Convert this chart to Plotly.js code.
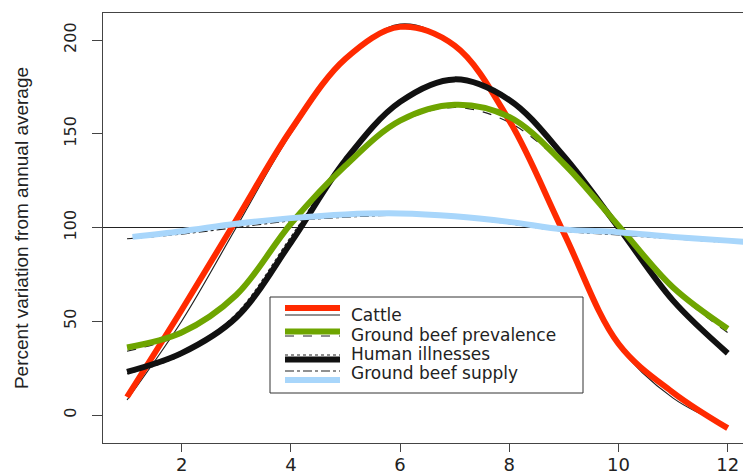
<!DOCTYPE html>
<html>
<head>
<meta charset="utf-8">
<script src="https://cdn.plot.ly/plotly-3.0.1.min.js"></script>
<style>
  html, body { margin: 0; padding: 0; background: #fff; overflow: hidden; }
  #chart { width: 743px; height: 474px; }
</style>
</head>
<body>
<div id="chart"></div>
<script>
// ---- data ----
const months = [1, 2, 3, 4, 5, 6, 7, 8, 9, 10, 11, 12];

const cattle     = [9.6, 56, 104, 152, 190, 207, 197, 157, 97, 38, 12, -7];
const cattleFit  = [8, 50, 100, 150, 189, 208.5, 197, 156, 96, 37, 9, -6];

const prevalence    = [36, 44, 64, 102, 133, 157, 165.5, 159, 134, 101, 68, 46];
const prevalenceFit = [34, 43, 63, 101, 132, 156, 164, 156, 133, 100, 67, 44];

const illnesses    = [23, 33, 52, 92, 136, 167, 179, 168, 138, 100, 61, 33];
const illnessesFit = [22, 32, 54, 95, 137, 167, 178.5, 167.5, 137, 99.5, 60, 32];

const supplyMonths = [1.1, 2, 3, 4, 5, 6, 7, 8, 9, 10, 11, 12, 12.5];
const supply       = [95, 98, 102, 105, 107, 107.5, 106, 103, 99, 97.5, 95, 93, 92];
const supplyFitMonths = [1, 2, 3, 4, 5, 6, 7, 8, 9, 10, 11, 12];
const supplyFit       = [94, 96.5, 100, 103.5, 105.5, 106.5, 105.5, 102, 98, 96, 94, 92];

const annualAverage = 100;

const seriesNames = ["Cattle", "Ground beef prevalence", "Human illnesses", "Ground beef supply"];
const xTickVals = [2, 4, 6, 8, 10, 12];
const yTickVals = [0, 50, 100, 150, 200];

// ---- styles ----
const RED = "#FF2A00", GREEN = "#6EA500", BLACK = "#111111", BLUE = "#A8D6FB", THIN = "#222222";
const W = 6;

function thin(x, y, dash) {
  return { x: x, y: y, type: "scatter", mode: "lines", showlegend: false, hoverinfo: "skip",
           line: { color: THIN, width: 1.2, dash: dash, shape: "spline", smoothing: 1 } };
}
function thick(x, y, color, name) {
  return { x: x, y: y, type: "scatter", mode: "lines", name: name, showlegend: false, hoverinfo: "skip",
           line: { color: color, width: W, shape: "spline", smoothing: 1 } };
}

const traces = [
  thin(months, cattleFit, "solid"),
  thin(months, prevalenceFit, "dash"),
  thin(months, illnessesFit, "dot"),
  thin(supplyFitMonths, supplyFit, "dashdot"),
  thick(months, cattle, RED, seriesNames[0]),
  thick(months, illnesses, BLACK, seriesNames[2]),
  thick(months, prevalence, GREEN, seriesNames[1]),
  thick(supplyMonths, supply, BLUE, seriesNames[3])
];

// ---- hand-drawn legend (two line samples per entry, as in the reference) ----
const plotL = 103, plotW = 640, plotT = 13, plotH = 430;
const px = v => (v - plotL) / plotW;
const py = v => (plotT + plotH - v) / plotH;

const shapes = [
  { type: "line", xref: "paper", x0: 0, x1: 1, yref: "y", y0: annualAverage, y1: annualAverage,
    line: { color: "#222", width: 1 }, layer: "below" },
  { type: "rect", xref: "paper", yref: "paper", x0: px(270), x1: px(583), y0: py(393), y1: py(297),
    line: { color: "#333", width: 1 }, fillcolor: "#ffffff" }
];
const legendSamples = [
  { y: 308, color: RED, w: 6, dash: "solid" }, { y: 315, color: THIN, w: 1.2, dash: "solid" },
  { y: 336, color: THIN, w: 1.2, dash: "dash" }, { y: 331.5, color: GREEN, w: 6, dash: "solid" },
  { y: 355, color: THIN, w: 1.2, dash: "dot" }, { y: 359.5, color: BLACK, w: 6, dash: "solid" },
  { y: 371, color: THIN, w: 1.2, dash: "dashdot" }, { y: 380, color: BLUE, w: 6, dash: "solid" }
];
legendSamples.forEach(s => shapes.push({
  type: "line", xref: "paper", yref: "paper", x0: px(285), x1: px(340), y0: py(s.y), y1: py(s.y),
  line: { color: s.color, width: s.w, dash: s.dash }
}));
const legendTextY = [315, 335, 354, 373];
const annotations = seriesNames.map((n, i) => ({
  text: n, xref: "paper", yref: "paper", x: px(349), y: py(legendTextY[i]),
  xanchor: "left", yanchor: "middle", showarrow: false,
  font: { family: "DejaVu Sans", size: 17, color: "#222" }
}));

const layout = {
  width: 743, height: 474,
  margin: { l: plotL, r: 0, t: plotT, b: 474 - plotT - plotH, pad: 0 },
  paper_bgcolor: "#fff", plot_bgcolor: "#fff",
  showlegend: false,
  xaxis: {
    range: [0.56, 12.28], tickvals: xTickVals, ticks: "outside", ticklen: 8, tickwidth: 1, tickcolor: "#444",
    showline: true, linecolor: "#444", linewidth: 1, mirror: true, showgrid: false, zeroline: false,
    tickfont: { family: "DejaVu Sans", size: 18, color: "#222" }, ticklabelstandoff: -3
  },
  yaxis: {
    range: [-14.93, 214.4], tickvals: yTickVals, ticks: "outside", ticklen: 10, tickwidth: 1, tickcolor: "#444",
    showline: true, linecolor: "#444", linewidth: 1, mirror: false, showgrid: false, zeroline: false,
    tickangle: -90, tickfont: { family: "DejaVu Sans", size: 16, color: "#222" }, ticklabelstandoff: 10,
    title: { text: "Percent variation from annual average", standoff: 26,
             font: { family: "Liberation Sans", size: 19, color: "#222" } }
  },
  shapes: shapes,
  annotations: annotations
};

Plotly.newPlot("chart", traces, layout, { staticPlot: true, displayModeBar: false });
</script>
</body>
</html>
